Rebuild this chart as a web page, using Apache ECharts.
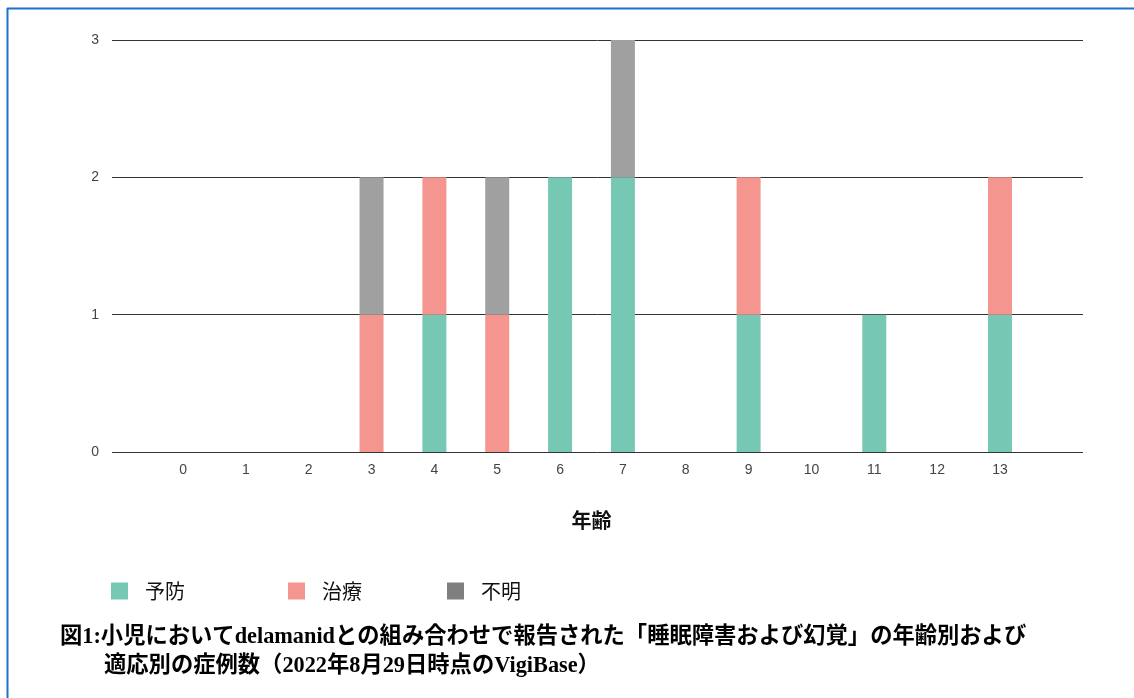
<!DOCTYPE html>
<html>
<head>
<meta charset="utf-8">
<script src="https://cdn.jsdelivr.net/npm/echarts@6/dist/echarts.min.js"></script>
<style>
html,body{margin:0;padding:0;background:#fff;}
#chart{width:1134px;height:698px;}
</style>
</head>
<body>
<div id="chart"></div>
<script>
// 年齢カテゴリ
var ages = ['0','1','2','3','4','5','6','7','8','9','10','11','12','13'];
// 適応別の症例数
var yobou  = [0,0,0,0,1,0,2,2,0,1,0,1,0,1];
var chiryou = [0,0,0,1,1,1,0,0,0,1,0,0,0,1];
var fumei  = [0,0,0,1,0,1,0,1,0,0,0,0,0,0];
var yTicks = [0,1,2,3];

var cTeal = '#76c8b4', cPink = '#f5958f', cGray = '#a0a0a0';

var chart = echarts.init(document.getElementById('chart'));
var baseFont = 'Liberation Sans, Arial, sans-serif';
var jpFont = '"Noto Sans CJK JP", sans-serif';
var capFont = '"Liberation Serif", "Noto Sans CJK JP", serif';

function toNull(arr){ return arr.map(function(v){ return v === 0 ? null : v; }); }

//凡例は項目ごとに配置
function legendAt(x, item){
	return {
		left:x, top:576, itemWidth:17, itemHeight:17, icon:'rect',
		textStyle:{color:'#111', fontSize:20, fontFamily:jpFont, padding:[0,0,0,12]},
		data:[item]
	};
}

chart.setOption({
	animation:false,
	backgroundColor:'#fff',
	grid:[
		{left:112, right:51, top:40, bottom:246},
		{left:151.6, right:102.6, top:40, bottom:246}
	],
	xAxis:[
		{gridIndex:0, type:'value', min:0, max:1, show:false},
		{gridIndex:1, type:'category', data:ages,
		 axisLine:{show:false}, axisTick:{show:false},
		 axisLabel:{color:'#444', fontSize:14, fontFamily:baseFont, margin:11},
		 name:'年齢', nameLocation:'middle', nameGap:58,
		 nameTextStyle:{color:'#111', fontSize:20, fontWeight:'bold', fontFamily:jpFont}}
	],
	yAxis:[
		{gridIndex:0, type:'value', min:yTicks[0], max:yTicks[yTicks.length-1], interval:1,
		 axisLine:{show:false}, axisTick:{show:false},
		 axisLabel:{color:'#444', fontSize:14, fontFamily:baseFont, margin:13},
		 splitLine:{lineStyle:{color:'#333', width:1}}},
		{gridIndex:1, type:'value', min:0, max:3, interval:1, show:false, splitLine:{show:false}}
	],
	legend:[
		legendAt(106, {name:'予防'}),
		legendAt(283, {name:'治療'}),
		legendAt(442, {name:'不明', itemStyle:{color:'#7f7f7f'}})
	],
	series:[
		{name:'予防', type:'bar', stack:'a', xAxisIndex:1, yAxisIndex:1, barWidth:24,
		 itemStyle:{color:cTeal}, data:toNull(yobou)},
		{name:'治療', type:'bar', stack:'a', xAxisIndex:1, yAxisIndex:1, barWidth:24,
		 itemStyle:{color:cPink}, data:toNull(chiryou)},
		{name:'不明', type:'bar', stack:'a', xAxisIndex:1, yAxisIndex:1, barWidth:24,
		 itemStyle:{color:cGray}, data:toNull(fumei)}
	],
	graphic:[
		{type:'line', shape:{x1:7, y1:8.5, x2:1134, y2:8.5}, style:{stroke:'#1a73c8', lineWidth:2}},
		{type:'line', shape:{x1:7.5, y1:8, x2:7.5, y2:698}, style:{stroke:'#1a73c8', lineWidth:2}},
		{type:'text', left:60, top:626, style:{
			text:'図1:小児においてdelamanidとの組み合わせで報告された「睡眠障害および幻覚」の年齢別および',
			font:'bold 22.3px ' + capFont, fill:'#000'}},
		{type:'text', left:104, top:655, style:{
			text:'適応別の症例数（2022年8月29日時点のVigiBase）',
			font:'bold 22.3px ' + capFont, fill:'#000'}}
	]
});
</script>
</body>
</html>
